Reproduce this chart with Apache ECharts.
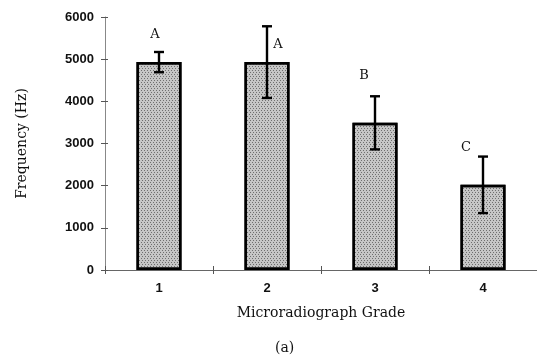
<!DOCTYPE html>
<html>
<head>
<meta charset="utf-8">
<script src="https://cdn.jsdelivr.net/npm/echarts@6/dist/echarts.min.js"></script>
<style>html,body{margin:0;padding:0;background:#fff;}#c{width:537px;height:362px;}</style>
</head>
<body>
<div id="c"></div>
<script>
var categories = ['1', '2', '3', '4'];
var meanValues = [4930, 4930, 3490, 2020];
var errorValues = [240, 850, 630, 670];
var groupLetters = ['A', 'A', 'B', 'C'];
var yTicks = [0, 1000, 2000, 3000, 4000, 5000, 6000];

// layout offsets (pixels) of the letters relative to the top of each error bar
var letterOffsets = [[-4, -17], [11, 18], [-11, -21], [-17, -9]];

var chart = echarts.init(document.getElementById('c'), null, {renderer: 'canvas'});
var serif = 'DejaVu Serif';
var sans = 'Liberation Sans';

var errData = categories.map(function (c, i) {
  return [i, meanValues[i] - errorValues[i], meanValues[i] + errorValues[i], i];
});

var option = {
  animation: false,
  backgroundColor: '#fff',
  grid: {left: 105, top: 17, bottom: 92, right: -4, containLabel: false},
  xAxis: [{
    type: 'category',
    data: categories,
    name: 'Microradiograph Grade',
    nameLocation: 'middle',
    nameGap: 36,
    nameTextStyle: {fontFamily: serif, fontSize: 14, color: '#111'},
    axisLine: {lineStyle: {color: '#666', width: 1}},
    axisTick: {show: true, alignWithLabel: false, length: 4, lineStyle: {color: '#555'}},
    axisLabel: {fontFamily: sans, fontWeight: 'bold', fontSize: 13, color: '#111', margin: 12},
    splitLine: {show: false}
  }, {
    type: 'category',
    data: categories,
    position: 'bottom',
    axisLine: {show: false},
    axisTick: {show: true, inside: true, length: 4, lineStyle: {color: '#555'}},
    axisLabel: {show: false},
    splitLine: {show: false}
  }],
  yAxis: [{
    type: 'value',
    min: 0, max: 6000, interval: 1000,
    name: 'Frequency (Hz)',
    nameLocation: 'middle',
    nameGap: 76,
    nameTextStyle: {fontFamily: serif, fontSize: 14, color: '#111'},
    axisLine: {show: true, lineStyle: {color: '#888', width: 1}},
    axisTick: {show: true, length: 4, lineStyle: {color: '#555'}},
    axisLabel: {fontFamily: sans, fontWeight: 'bold', fontSize: 13, color: '#111', margin: 11,
      formatter: function (v) { return yTicks.indexOf(v) >= 0 ? String(v) : ''; }},
    splitLine: {show: false}
  }, {
    type: 'value',
    min: 0, max: 6000, interval: 1000,
    position: 'left',
    axisLine: {show: false},
    axisTick: {show: true, inside: true, length: 3, lineStyle: {color: '#555'}},
    axisLabel: {show: false},
    splitLine: {show: false}
  }],
  series: [{
    type: 'bar',
    data: meanValues,
    barWidth: 45,
    itemStyle: {
      color: '#c6c6c6',
      borderColor: '#000',
      borderWidth: 2.4,
      decal: {
        symbol: 'rect',
        symbolSize: 1,
        color: 'rgba(40,40,40,0.55)',
        dashArrayX: [[1, 2], [0, 1, 1, 1]],
        dashArrayY: [1, 1],
        rotation: 0
      }
    }
  }, {
    type: 'custom',
    data: errData,
    z: 10,
    renderItem: function (params, api) {
      var x = api.value(0);
      var lo = api.coord([x, api.value(1)]);
      var hi = api.coord([x, api.value(2)]);
      var cap = 5;
      var idx = api.value(3);
      var off = letterOffsets[idx];
      var st = {stroke: '#000', lineWidth: 2.4};
      return {
        type: 'group',
        children: [
          {type: 'line', shape: {x1: hi[0], y1: hi[1], x2: lo[0], y2: lo[1]}, style: st},
          {type: 'line', shape: {x1: hi[0] - cap, y1: hi[1], x2: hi[0] + cap, y2: hi[1]}, style: st},
          {type: 'line', shape: {x1: lo[0] - cap, y1: lo[1], x2: lo[0] + cap, y2: lo[1]}, style: st},
          {type: 'text', x: hi[0] + off[0], y: hi[1] + off[1],
            style: {text: groupLetters[idx], fill: '#111', font: '13px "DejaVu Serif"',
              align: 'center', verticalAlign: 'middle'}}
        ]
      };
    }
  }],
  graphic: [{
    type: 'text',
    left: 275,
    top: 341,
    style: {text: '(a)', fill: '#111', font: '14px "DejaVu Serif"'}
  }]
};
chart.setOption(option);
</script>
</body>
</html>
